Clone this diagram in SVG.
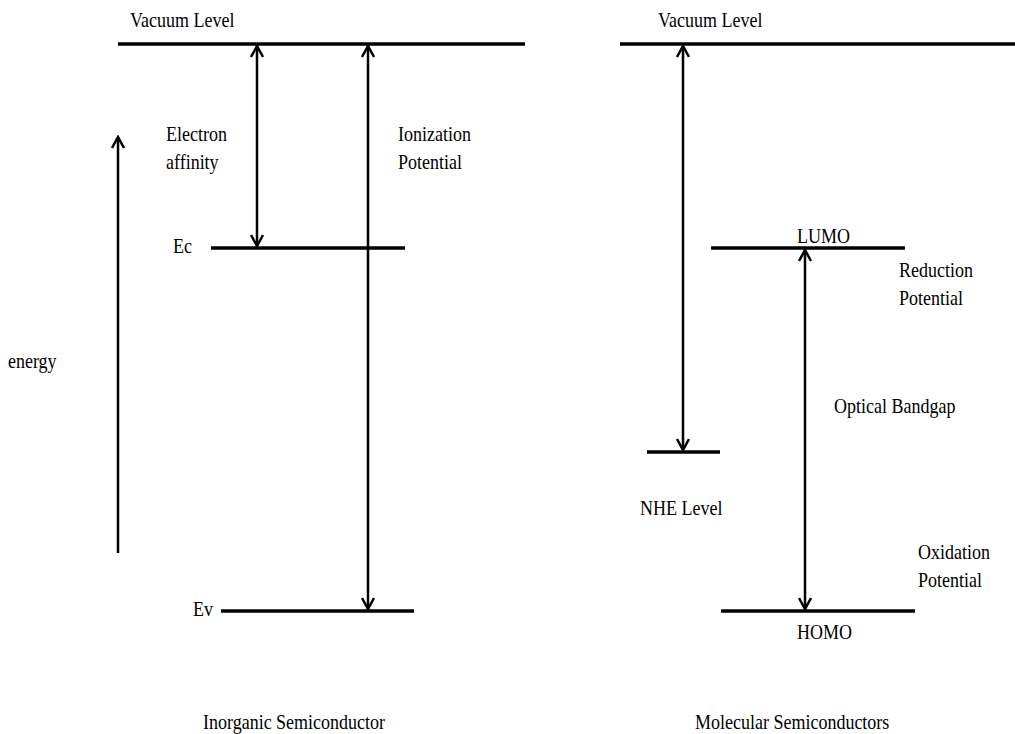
<svg xmlns="http://www.w3.org/2000/svg" width="1015" height="734" viewBox="0 0 1015 734">
<style>
text{font-family:"Liberation Serif","Times New Roman",serif;font-size:21px;fill:#000;transform:scale(0.857,1)}
.lvl{stroke:#000;stroke-width:3.5;fill:none}
.arr{stroke:#000;stroke-width:2.5;fill:none}
</style>
<defs>
<marker id="h" viewBox="0 0 14 14" refX="12" refY="7" markerWidth="14" markerHeight="14" markerUnits="userSpaceOnUse" orient="auto-start-reverse">
<path d="M1,1 L12,7 L1,13" fill="none" stroke="#000" stroke-width="2.5"/>
</marker>
</defs>
<rect width="1015" height="734" fill="#fff"/>
<g id="vacuum-left"><line class="lvl" x1="118" y1="44" x2="525" y2="44"/><text x="151.7" y="27">Vacuum Level</text></g>
<g id="vacuum-right"><line class="lvl" x1="620" y1="44" x2="1015" y2="44"/><text x="767.8" y="27">Vacuum Level</text></g>
<g id="ec"><line class="lvl" x1="211" y1="248" x2="405" y2="248"/><text x="201.9" y="253">Ec</text></g>
<g id="ev"><line class="lvl" x1="221" y1="611" x2="414" y2="611"/><text x="225.2" y="616">Ev</text></g>
<g id="nhe"><line class="lvl" x1="647" y1="452" x2="720" y2="452"/><text x="746.8" y="515">NHE Level</text></g>
<g id="lumo"><line class="lvl" x1="711" y1="248" x2="905" y2="248"/><text x="930" y="243">LUMO</text></g>
<g id="homo"><line class="lvl" x1="721" y1="611" x2="915" y2="611"/><text x="930" y="639">HOMO</text></g>
<g id="labels">
<text x="9.3" y="368">energy</text>
<text x="193.7" y="141">Electron</text><text x="193.7" y="169">affinity</text>
<text x="464.4" y="141">Ionization</text><text x="464.4" y="169">Potential</text>
<text x="1049" y="277">Reduction</text><text x="1049" y="305">Potential</text>
<text x="973.2" y="413">Optical Bandgap</text>
<text x="1071.2" y="559">Oxidation</text><text x="1071.2" y="587">Potential</text>
<text x="236.9" y="729">Inorganic Semiconductor</text>
<text x="811" y="729">Molecular Semiconductors</text>
</g>
<g id="connectors">
<line class="arr" x1="118" y1="553" x2="118" y2="137" marker-end="url(#h)"/>
<line class="arr" x1="257" y1="46" x2="257" y2="246" marker-start="url(#h)" marker-end="url(#h)"/>
<line class="arr" x1="368" y1="46" x2="368" y2="609" marker-start="url(#h)" marker-end="url(#h)"/>
<line class="arr" x1="683" y1="46" x2="683" y2="450" marker-start="url(#h)" marker-end="url(#h)"/>
<line class="arr" x1="805" y1="250" x2="805" y2="609" marker-start="url(#h)" marker-end="url(#h)"/>
</g>
</svg>
